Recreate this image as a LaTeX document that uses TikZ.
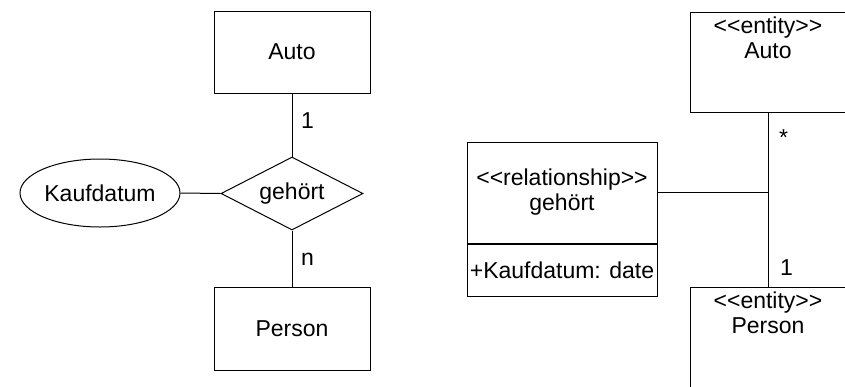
\documentclass[tikz,border=0pt]{standalone}
\usepackage{fontspec}
\newfontfamily\lsans{Liberation Sans}
\usetikzlibrary{shapes.geometric}
\begin{document}
\begin{tikzpicture}[x=1pt,y=-1pt,
  every node/.style={font=\lsans\fontsize{23}{25}\selectfont},
  box/.style={draw,line width=1pt,rectangle,inner sep=0pt},
  conn/.style={line width=1pt},
  lbl/.style={inner sep=0pt,anchor=base west}]
\useasboundingbox (0,0) rectangle (845,386);
\clip (0,0) rectangle (845,386);
% ---- ER diagram (left)
\node[box,minimum width=156pt,minimum height=82pt] (auto) at (292,52) {Auto};
\node[box,minimum width=156pt,minimum height=83pt] (person) at (292,328.5) {Person};
\node[draw,line width=1pt,diamond,aspect=1.95,inner sep=0pt,minimum width=142pt,minimum height=73pt] (rel) at (292,193.5) {gehört};
\node[draw,line width=1pt,ellipse,inner sep=0pt,minimum width=160pt,minimum height=68pt] (attr) at (100,193) {Kaufdatum};
\draw[conn] (auto.south) -- (rel.north);
\draw[conn] (rel.south) -- (person.north);
\draw[conn] (attr.east) -- (rel.west);
\node[lbl] (one) at (301,128) {1};
\node[lbl] (n) at (301,265) {n};
% ---- UML diagram (right)
\node[box,minimum width=156pt,minimum height=100pt] (eauto) at (768,62) {};
\node[inner sep=0pt,anchor=north,align=center] (eautot) at ([yshift=-5pt]eauto.north) {<{}<entity>{}>\\Auto};
\node[box,minimum width=156pt,minimum height=102pt] (eperson) at (768,338) {};
\node[inner sep=0pt,anchor=north,align=center] (epersont) at ([yshift=-5pt]eperson.north) {<{}<entity>{}>\\Person};
\node[box,minimum width=190pt,minimum height=101pt,align=center] (urel) at (562,192.5) {<{}<relationship>{}>\\gehört};
\node[box,minimum width=190pt,minimum height=52pt,anchor=north] (uattr) at (urel.south) {+Kaufdatum: date};
\coordinate (j) at (urel.east -| eauto.south);
\draw[conn] (eauto.south) -- (eperson.north);
\draw[conn] (urel.east) -- (j);
\node[lbl] (star) at (779,145) {*};
\node[lbl] (uone) at (780,275) {1};
\end{tikzpicture}
\end{document}
